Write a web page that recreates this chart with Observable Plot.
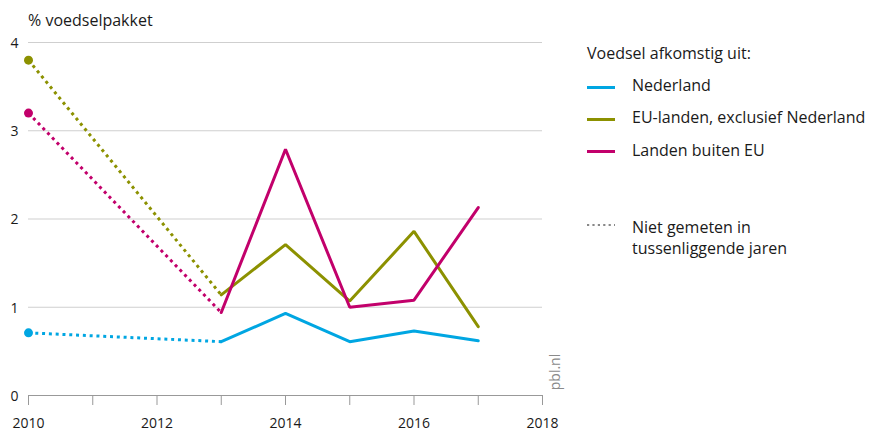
<!DOCTYPE html>
<html>
<head>
<meta charset="utf-8">
<script src="https://cdn.jsdelivr.net/npm/d3@7"></script>
<script src="https://cdn.jsdelivr.net/npm/@observablehq/plot@0.6"></script>
<style>
  body { margin: 0; background: #fff; }
  #wrap { position: relative; width: 873px; height: 431px; font-family: "Open Sans", sans-serif; color: #1a1a1a; }
  .t { position: absolute; font-size: 16px; line-height: 20px; white-space: nowrap; }
  .sw { position: absolute; width: 28px; height: 3px; }
</style>
</head>
<body>
<div id="wrap"></div>
<script>
const years = [2010, 2013, 2014, 2015, 2016, 2017];
const nederland = [0.71, 0.61, 0.93, 0.61, 0.73, 0.62];
const euLanden = [3.80, 1.14, 1.71, 1.07, 1.86, 0.78];
const buitenEU = [3.20, 0.94, 2.79, 1.00, 1.08, 2.13];
const seriesNames = ["Nederland", "EU-landen, exclusief Nederland", "Landen buiten EU"];
const seriesColors = ["#00a6e2", "#8c9100", "#c2006b"];
const xTickYears = [2010, 2011, 2012, 2013, 2014, 2015, 2016, 2017, 2018];
const yTicks = [0, 1, 2, 3, 4];
const gridValues = [1, 2, 3, 4];
const yLabel = "% voedselpakket";
const legendTitle = "Voedsel afkomstig uit:";
const dottedLabel = ["Niet gemeten in", "tussenliggende jaren"];

const allValues = [nederland, euLanden, buitenEU];
const rows = [];
allValues.forEach((vals, s) => {
  vals.forEach((v, i) => rows.push({series: seriesNames[s], year: years[i], value: v}));
});
const solid = rows.filter(d => d.year >= 2013);
const dotted = rows.filter(d => d.year <= 2013);
const firsts = rows.filter(d => d.year === 2010);

const chart = Plot.plot({
  width: 873,
  height: 431,
  marginLeft: 28,
  marginRight: 331,
  marginTop: 42,
  marginBottom: 36,
  style: {fontFamily: "Open Sans, sans-serif", fontSize: "14px", color: "#1a1a1a", background: "transparent"},
  x: {domain: [2010, 2018]},
  y: {domain: [0, 4]},
  color: {domain: seriesNames, range: seriesColors},
  marks: [
    Plot.ruleY(gridValues, {stroke: "#cfcfcf", strokeWidth: 1}),
    Plot.ruleY([0], {stroke: "#999", strokeWidth: 1}),
    Plot.axisX({ticks: xTickYears, tickFormat: d => d % 2 === 0 ? String(d) : "", tickSize: 10, tickPadding: 13, stroke: "#999", label: null, fill: "#1a1a1a", fontSize: 14}),
    Plot.axisY({ticks: yTicks, tickFormat: d3.format("d"), tickSize: 0, tickPadding: 10, label: null, fill: "#1a1a1a", fontSize: 14, dy: 1}),
    Plot.line(dotted, {x: "year", y: "value", z: "series", stroke: "series", strokeWidth: 3, strokeDasharray: "3,3.8", strokeLinecap: "butt"}),
    Plot.line(solid, {x: "year", y: "value", z: "series", stroke: "series", strokeWidth: 3, strokeLinejoin: "miter"}),
    Plot.dot(firsts, {x: "year", y: "value", fill: "series", r: 4.5})
  ]
});
const wrap = document.getElementById("wrap");
wrap.appendChild(chart);
chart.style.position = "absolute";
chart.style.left = "0px";
chart.style.top = "0px";

function addText(txt, left, top, extra) {
  const d = document.createElement("div");
  d.className = "t";
  d.textContent = txt;
  d.style.left = left + "px";
  d.style.top = top + "px";
  if (extra) Object.assign(d.style, extra);
  wrap.appendChild(d);
  return d;
}
addText(yLabel, 28, 10);
addText(legendTitle, 587, 43);
const itemTops = [75, 107, 139.5];
seriesNames.forEach((n, i) => {
  addText(n, 632, itemTops[i]);
  const s = document.createElement("div");
  s.className = "sw";
  s.style.left = "587px";
  s.style.top = (itemTops[i] + 10.5) + "px";
  s.style.background = seriesColors[i];
  wrap.appendChild(s);
});
addText(dottedLabel[0], 632, 216.5);
addText(dottedLabel[1], 632, 237.5);
const ds = document.createElementNS("http://www.w3.org/2000/svg", "svg");
ds.setAttribute("width", 28); ds.setAttribute("height", 6);
ds.style.position = "absolute"; ds.style.left = "587px"; ds.style.top = "221.5px";
const ln = document.createElementNS("http://www.w3.org/2000/svg", "line");
ln.setAttribute("x1", 0); ln.setAttribute("x2", 28); ln.setAttribute("y1", 3); ln.setAttribute("y2", 3);
ln.setAttribute("stroke", "#888"); ln.setAttribute("stroke-width", 2.2); ln.setAttribute("stroke-dasharray", "2.2,3.2");
ds.appendChild(ln);
wrap.appendChild(ds);
addText("pbl.nl", 555, 372, {fontSize: "14px", color: "#8a8a8a", transform: "translate(-50%,-50%) rotate(-90deg)"});
</script>
</body>
</html>
